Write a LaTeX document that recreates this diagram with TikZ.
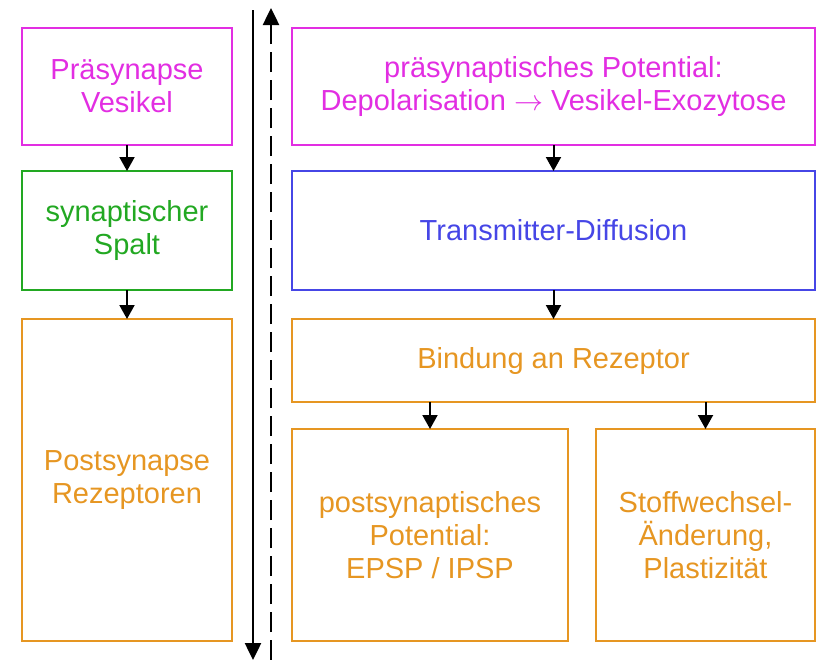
\documentclass[tikz,border=0pt]{standalone}
\usepackage{fontspec}
\usepackage{graphicx}
\setmainfont{Liberation Sans}
\usetikzlibrary{arrows.meta, positioning}
\definecolor{synmagenta}{RGB}{226,46,226}
\definecolor{spaltgreen}{RGB}{34,168,34}
\definecolor{diffblue}{RGB}{70,70,230}
\definecolor{rezorange}{RGB}{230,150,34}
\newcommand{\pfeiltext}{\resizebox{29bp}{!}{$\rightarrow$}}
\tikzset{
  box/.style={draw, rectangle, line width=1.2bp, align=center, inner sep=0pt, outer sep=0pt,
    font=\fontsize{29bp}{33bp}\selectfont},
  flow/.style={line width=2bp, -{Triangle[width=15bp,length=14bp]}},
  axis/.style={line width=2.5bp, -{Triangle[width=16bp,length=17bp]}},
}

\begin{document}
\begin{tikzpicture}[node distance=26bp]
  \useasboundingbox (0,0) rectangle (816bp,-660bp);
  % Nodes, linke Spalte
  \node (praesyn) [box, synmagenta, minimum width=210bp, minimum height=117bp] at (127bp,-86.5bp) {Präsynapse\\Vesikel};
  \node (spalt) [box, spaltgreen, minimum width=210bp, minimum height=119bp, below=26bp of praesyn] {synaptischer\\Spalt};
  \node (postsyn) [box, rezorange, minimum width=210bp, minimum height=322bp, below=29bp of spalt] {Postsynapse\\Rezeptoren};

  % Nodes, rechte Spalte
  \node (potential) [box, synmagenta, minimum width=523bp, minimum height=117bp, right=60bp of praesyn] {präsynaptisches Potential:\\Depolarisation \pfeiltext{} Vesikel-Exozytose};
  \node (diffusion) [box, diffblue, minimum width=523bp, minimum height=119bp, below=26bp of potential] {Transmitter-Diffusion};
  \node (bindung) [box, rezorange, minimum width=523bp, minimum height=83bp, below=29bp of diffusion] {Bindung an Rezeptor};
  \node (psp) [box, rezorange, minimum width=276bp, minimum height=212bp, below=27bp of bindung.south west, anchor=north west] {postsynaptisches\\Potential:\\EPSP / IPSP};
  \node (stoffw) [box, rezorange, minimum width=219bp, minimum height=212bp, right=28bp of psp] {Stoffwechsel-\\Änderung,\\Plastizität};

  % Mittellinien
  \coordinate (ab oben) at (253bp,-10bp);
  \coordinate (ab unten) at (253bp,-660bp);
  \coordinate (auf unten) at (271bp,-660bp);
  \coordinate (auf oben) at (271bp,-8bp);

  % Arrows
  \draw[flow] (praesyn) -- (spalt);
  \draw[flow] (spalt) -- (postsyn);
  \draw[flow] (potential) -- (diffusion);
  \draw[flow] (diffusion) -- (bindung);
  \draw[flow] (psp.north |- bindung.south) -- (psp);
  \draw[flow] (stoffw.north |- bindung.south) -- (stoffw);
  \draw[axis] (ab oben) -- (ab unten);
  \draw[axis, dash pattern=on 20bp off 8bp] (auf unten) -- (auf oben);
\end{tikzpicture}
\end{document}
